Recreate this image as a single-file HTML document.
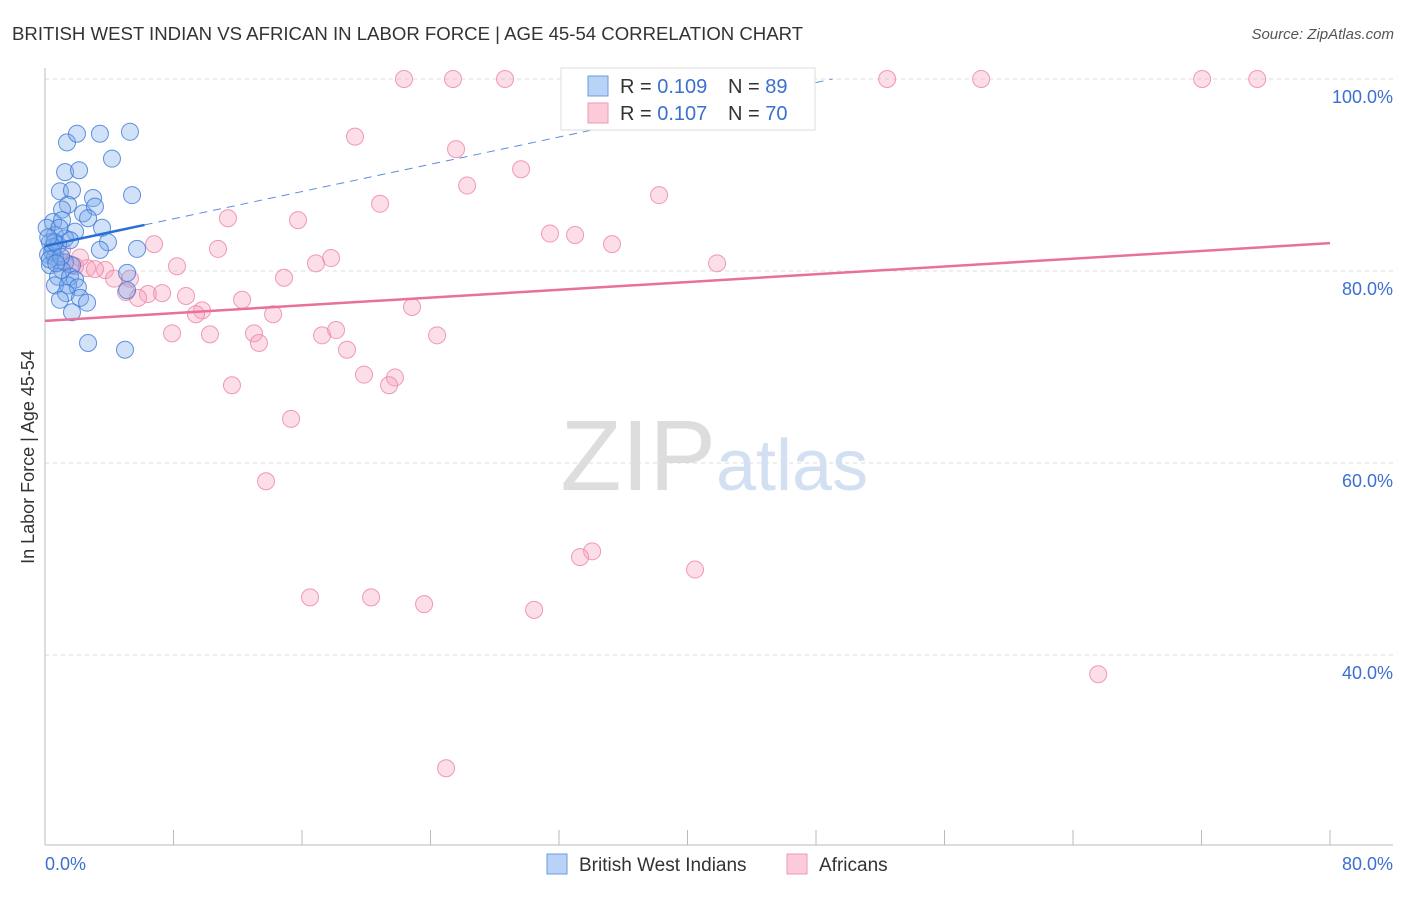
<!DOCTYPE html>
<html><head><meta charset="utf-8"><style>
body{margin:0;background:#fff;font-family:"Liberation Sans",sans-serif}
svg text{font-family:"Liberation Sans",sans-serif}
</style></head><body>
<svg width="1406" height="892" viewBox="0 0 1406 892">
<text x="12" y="40" font-size="18.6" fill="#333">BRITISH WEST INDIAN VS AFRICAN IN LABOR FORCE | AGE 45-54 CORRELATION CHART</text>
<text x="1394" y="39" font-size="15" fill="#555" font-style="italic" text-anchor="end">Source: ZipAtlas.com</text>
<g id="grid"></g>
<text x="716" y="490" font-size="100" fill="#ddd" text-anchor="end" font-family="Liberation Serif">ZIP</text>
<text x="716" y="490" font-size="72" fill="#d3e0f2">atlas</text>
<g id="axes"></g>
<g id="pts"></g>
<g id="lines"></g>
<text transform="translate(34,457) rotate(-90)" font-size="18" fill="#333" text-anchor="middle">In Labor Force | Age 45-54</text>
<text x="45" y="870" font-size="18" fill="#3b6fd0">0.0%</text>
<text x="1393" y="870" font-size="18" fill="#3b6fd0" text-anchor="end">80.0%</text>
<g>
<rect x="561" y="68" width="254" height="62" fill="#fff" stroke="#ddd"/>
<rect x="588" y="76" width="20" height="20" fill="#b8d3f5" stroke="#6a9be0"/>
<rect x="588" y="103" width="20" height="20" fill="#fbcbd9" stroke="#ef98b4"/>
<text x="620" y="93" font-size="20" fill="#333">R = <tspan fill="#3b6fd0">0.109</tspan></text>
<text x="728" y="93" font-size="20" fill="#333">N = <tspan fill="#3b6fd0">89</tspan></text>
<text x="620" y="120" font-size="20" fill="#333">R = <tspan fill="#3b6fd0">0.107</tspan></text>
<text x="728" y="120" font-size="20" fill="#333">N = <tspan fill="#3b6fd0">70</tspan></text>
</g>
<g>
<rect x="547" y="854" width="20" height="20" fill="#b8d3f5" stroke="#6a9be0"/>
<text x="579" y="871" font-size="19" fill="#333">British West Indians</text>
<rect x="787" y="854" width="20" height="20" fill="#fbcbd9" stroke="#ef98b4"/>
<text x="819" y="871" font-size="19" fill="#333">Africans</text>
</g>
</svg>
<script>
const yTicks=[100,80,60,40];
const yTickLabels=["100.0%","80.0%","60.0%","40.0%"];
const xTicks=[0,8,16,24,32,40,48,56,64,72,80];
const blueX=[1.37,1.99,3.42,5.29,4.17,1.25,2.12,0.93,1.68,5.42,2.99,1.43,1.06,2.37,3.11,2.68,0.5,1.06,3.55,1.87,0.62,1.25,0.31,0.81,1.56,3.92,3.42,5.73,0.19,0.62,1.25,1.68,0.31,5.11,1.06,0.81,1.56,1.87,0.62,1.43,2.05,1.31,2.18,0.93,2.62,1.68,5.11,2.68,4.98,0.5,0.1,0.9,0.45,0.6,0.3,1.0,0.2,0.7];
const blueY=[93.4,94.3,94.3,94.5,91.7,90.3,90.5,88.3,88.4,87.9,87.6,86.9,86.4,86.0,86.7,85.5,85.1,85.3,84.5,84.1,83.75,83.4,83.0,82.7,83.2,83.0,82.2,82.3,81.7,81.4,80.9,80.6,80.6,79.8,80.1,79.4,79.4,79.1,78.5,78.5,78.3,77.7,77.2,77.0,76.7,75.7,78.0,72.5,71.8,82.5,84.5,84.5,82.0,83.0,81.2,81.5,83.5,80.8];
const pinkX=[22.35,25.4,28.64,43.34,52.43,58.28,72.04,75.47,19.3,25.59,29.64,26.28,38.23,20.86,11.39,15.75,31.44,33.0,35.3,6.79,10.77,17.81,16.87,41.84,8.22,3.74,2.62,4.3,14.88,5.29,5.04,6.41,7.29,8.78,5.79,12.27,9.78,9.4,14.2,22.85,7.91,10.27,13.01,18.12,17.25,13.32,24.41,18.8,19.86,21.79,21.42,11.64,15.32,13.76,34.06,33.31,40.47,16.5,20.3,23.6,30.45,65.57,24.97,0.93,1.56,1.87,3.11,1.06,2.18];
const pinkY=[100,100,100,100,100,100,100,100,94.0,92.7,90.6,88.9,87.9,87.0,85.5,85.3,83.9,83.75,82.8,82.8,82.3,81.35,80.8,80.8,80.5,80.1,80.3,79.2,79.3,79.2,77.8,77.6,77.7,77.4,77.2,77.0,75.9,75.5,75.5,76.25,73.5,73.4,73.5,73.85,73.3,72.5,73.3,71.8,69.2,68.9,68.1,68.1,64.6,58.1,50.8,50.2,48.9,46.0,46.0,45.3,44.7,38.0,28.2,81.0,80.7,80.5,80.2,82.2,81.4];
const pinkTrend=[74.8,82.9];
const blueTrend=[82.6,84.8];
const X=v=>45+v*16.0625, Y=v=>79+(100-v)*9.6;
const NS="http://www.w3.org/2000/svg";
function mk(p,t,a){const e=document.createElementNS(NS,t);for(const k in a)e.setAttribute(k,a[k]);p.appendChild(e);return e;}
const grid=document.getElementById('grid'),axes=document.getElementById('axes'),pts=document.getElementById('pts'),lines=document.getElementById('lines');
yTicks.forEach((t,i)=>{
 const l=mk(grid,'line',{x1:45,x2:1393,y1:Y(t),y2:Y(t),stroke:'#ddd','stroke-dasharray':'4,4'});
 
 
 const tx=mk(grid,'text',{x:1393,y:Y(t)+24,'font-size':18,fill:'#3b6fd0','text-anchor':'end'});
 tx.textContent=yTickLabels[i];
 
 
});
mk(axes,'line',{x1:45,x2:45,y1:68,y2:845,stroke:'#bbb'});
mk(axes,'line',{x1:45,x2:1393,y1:845,y2:845,stroke:'#bbb'});
xTicks.forEach(t=>{const l=mk(axes,'line',{x1:X(t),x2:X(t),y1:830,y2:845,stroke:'#bbb'});
 
 });
pinkX.forEach((x,i)=>{const c=mk(pts,'circle',{cx:X(x),cy:Y(pinkY[i]),r:8.5,fill:'rgba(246,160,190,0.35)',stroke:'rgba(236,130,165,0.8)','stroke-width':1});
 
 });
blueX.forEach((x,i)=>{const c=mk(pts,'circle',{cx:X(x),cy:Y(blueY[i]),r:8.5,fill:'rgba(120,170,235,0.35)',stroke:'rgba(60,120,215,0.8)','stroke-width':1});
 
 });
const pl=mk(lines,'line',{x1:X(0),y1:Y(pinkTrend[0]),x2:X(80),y2:Y(pinkTrend[1]),stroke:'#e8709a','stroke-width':2.5});


const bs=(blueTrend[1]-blueTrend[0])/6.2;
const bl=mk(lines,'line',{x1:X(0),y1:Y(blueTrend[0]),x2:X(6.2),y2:Y(blueTrend[1]),stroke:'#2a6fd6','stroke-width':2.5});


const xe=(100-blueTrend[0])/bs;
const bd=mk(lines,'line',{x1:X(6.2),y1:Y(blueTrend[1]),x2:X(xe),y2:Y(100),stroke:'#5a8ee0','stroke-width':1,'stroke-dasharray':'8,6'});


</script>
</body></html>
